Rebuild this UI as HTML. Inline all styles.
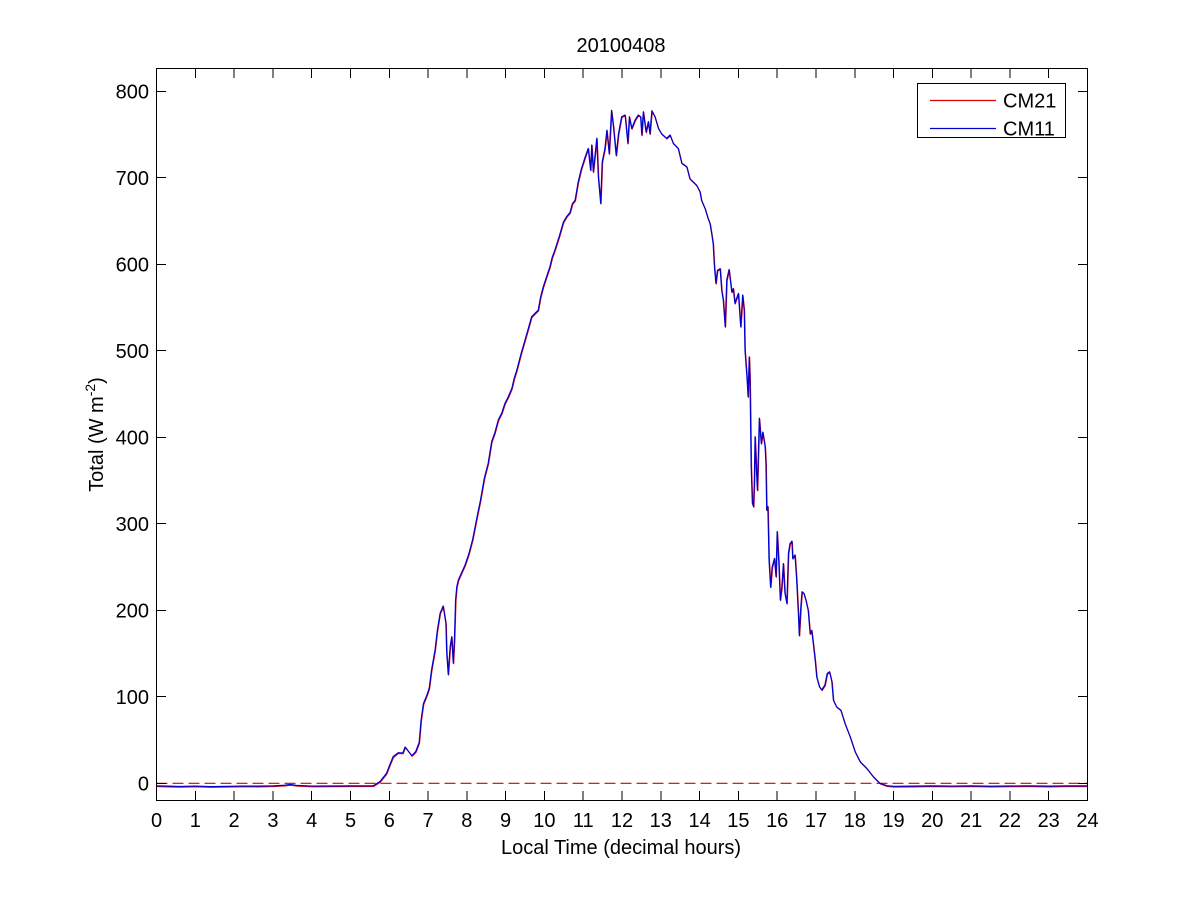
<!DOCTYPE html>
<html>
<head>
<meta charset="utf-8">
<style>
  html,body{margin:0;padding:0;background:#fff;}
  svg{display:block;}
  text{font-family:"Liberation Sans",Arial,sans-serif;fill:#000;}
</style>
</head>
<body>
<svg width="1201" height="900" viewBox="0 0 1201 900" xmlns="http://www.w3.org/2000/svg">
  <defs>
    <polyline id="d" fill="none" vector-effect="non-scaling-stroke" stroke-linejoin="round"
      points="0,-3 0.3,-3.3 0.6,-3.6 1,-3.2 1.4,-3.8 1.8,-3.5 2.2,-3.2 2.6,-3.3 3,-3 3.3,-2.2 3.45,-1.3 3.6,-2.4 4,-3.2 4.5,-3.1 5,-3 5.3,-2.9 5.59,-2.8 5.76,2 5.93,11.6 6.02,22 6.1,30.8 6.23,35.4 6.35,35 6.41,42 6.47,38.5 6.58,32 6.68,36.5 6.77,47 6.82,73 6.88,92 6.97,102 7.03,110 7.09,131 7.18,154 7.24,177 7.31,196.5 7.39,205 7.46,185 7.48,152 7.52,126 7.57,158 7.61,169.5 7.65,139 7.68,166 7.71,212 7.74,227 7.78,235 7.85,242 7.95,252 8.05,265 8.15,282 8.25,305 8.35,327 8.45,352.6 8.55,370 8.64,395 8.72,405 8.81,420 8.9,428 8.98,439 9.07,447 9.16,456.6 9.22,468 9.29,478 9.4,497 9.5,512.5 9.58,525 9.67,539.4 9.75,543 9.84,547 9.9,562 9.97,574 10.05,585 10.14,597 10.2,608 10.27,616.5 10.38,632 10.49,649 10.57,655 10.66,660 10.72,670 10.79,674 10.87,695 10.95,710 11.05,724 11.13,734 11.19,709 11.22,738 11.26,707 11.30,724 11.35,745.7 11.39,701 11.45,670.5 11.49,718.6 11.56,734 11.61,755 11.67,728 11.73,778 11.78,759 11.85,726 11.91,751 11.99,770.6 12.08,772.6 12.15,740 12.19,770.6 12.25,757 12.34,767 12.42,772.6 12.48,770.6 12.51,749.5 12.55,776.4 12.62,753 12.68,765 12.72,751 12.77,777.6 12.85,770.6 12.94,757 13.02,751 13.15,745.7 13.24,749.5 13.32,740 13.45,734 13.54,717 13.67,712.8 13.75,699 13.92,691.6 14.01,684 14.05,674 14.14,664.7 14.22,653 14.27,647 14.31,636 14.35,624 14.38,599 14.42,578 14.46,593 14.53,595 14.57,570 14.61,559 14.66,528 14.7,582 14.76,594 14.83,568 14.87,572 14.91,555 15.0,566.5 15.06,528 15.11,564.5 15.15,547 15.17,501 15.22,470 15.25,447 15.28,493 15.3,466 15.33,366 15.36,324 15.39,320 15.41,347 15.43,400.7 15.47,358 15.49,339 15.54,422 15.59,393 15.63,406 15.69,389 15.71,370 15.73,316 15.76,320 15.79,258 15.83,227 15.87,250 15.93,260 15.97,239 16.0,291 16.04,258 16.08,212 16.12,227 16.16,254 16.2,220 16.25,208 16.29,266 16.33,277 16.38,280 16.4,260 16.46,264 16.5,237 16.55,193 16.57,171 16.61,204 16.64,221.5 16.69,219.6 16.74,212 16.8,200 16.85,173 16.89,177 16.93,162 16.98,142.5 17.02,123 17.09,111.7 17.15,108 17.23,113.6 17.29,127 17.35,129 17.41,117.5 17.45,96 17.53,88.6 17.64,84.7 17.75,69 17.88,54 18.01,36.5 18.14,25 18.31,17.3 18.48,7.6 18.65,0 18.83,-2.8 19,-3.5 19.5,-3.3 20,-3 20.5,-3.2 21,-3 21.5,-3.4 22,-3.1 22.5,-3 23,-3.3 23.5,-2.9 24,-3"/>
  </defs>

  <rect x="0" y="0" width="1201" height="900" fill="#fff"/>

  <!-- Title -->
  <text x="621" y="52" font-size="20" text-anchor="middle">20100408</text>

  <!-- zero dashed line -->
  <line x1="156.5" y1="783.3" x2="1087.5" y2="783.3" stroke="#d00000" stroke-width="1.2" stroke-dasharray="11,5"/>

  <!-- data -->
  <g transform="translate(156.5,783.3) scale(38.7917,-0.865)">
    <use href="#d" stroke="#e00000" stroke-width="1.2" transform="translate(0.01,-0.8)"/>
    <use href="#d" stroke="#0000d0" stroke-width="1.2"/>
  </g>

  <!-- axes box -->
  <rect x="156.5" y="68.5" width="931" height="732" fill="none" stroke="#000" stroke-width="1" shape-rendering="crispEdges"/>

  <!-- ticks -->
  <g stroke="#000" stroke-width="1" shape-rendering="crispEdges">
    <path d="M195.3 800v-9M234.1 800v-9M272.9 800v-9M311.7 800v-9M350.5 800v-9M389.3 800v-9M428.0 800v-9M466.8 800v-9M505.6 800v-9M544.4 800v-9M583.2 800v-9M622.0 800v-9M660.8 800v-9M699.6 800v-9M738.4 800v-9M777.2 800v-9M816.0 800v-9M854.8 800v-9M893.5 800v-9M932.3 800v-9M971.1 800v-9M1009.9 800v-9M1048.7 800v-9"/>
    <path d="M195.3 69v9M234.1 69v9M272.9 69v9M311.7 69v9M350.5 69v9M389.3 69v9M428.0 69v9M466.8 69v9M505.6 69v9M544.4 69v9M583.2 69v9M622.0 69v9M660.8 69v9M699.6 69v9M738.4 69v9M777.2 69v9M816.0 69v9M854.8 69v9M893.5 69v9M932.3 69v9M971.1 69v9M1009.9 69v9M1048.7 69v9"/>
    <path d="M157 783.5h9M157 696.5h9M157 610.5h9M157 523.5h9M157 437.5h9M157 350.5h9M157 264.5h9M157 177.5h9M157 91.5h9"/>
    <path d="M1087 783.5h-9M1087 696.5h-9M1087 610.5h-9M1087 523.5h-9M1087 437.5h-9M1087 350.5h-9M1087 264.5h-9M1087 177.5h-9M1087 91.5h-9"/>
  </g>

  <!-- x tick labels -->
  <g font-size="20" text-anchor="middle">
    <text x="156.5" y="827">0</text>
    <text x="195.3" y="827">1</text>
    <text x="234.1" y="827">2</text>
    <text x="272.9" y="827">3</text>
    <text x="311.7" y="827">4</text>
    <text x="350.5" y="827">5</text>
    <text x="389.3" y="827">6</text>
    <text x="428.0" y="827">7</text>
    <text x="466.8" y="827">8</text>
    <text x="505.6" y="827">9</text>
    <text x="544.4" y="827">10</text>
    <text x="583.2" y="827">11</text>
    <text x="622.0" y="827">12</text>
    <text x="660.8" y="827">13</text>
    <text x="699.6" y="827">14</text>
    <text x="738.4" y="827">15</text>
    <text x="777.2" y="827">16</text>
    <text x="816.0" y="827">17</text>
    <text x="854.8" y="827">18</text>
    <text x="893.5" y="827">19</text>
    <text x="932.3" y="827">20</text>
    <text x="971.1" y="827">21</text>
    <text x="1009.9" y="827">22</text>
    <text x="1048.7" y="827">23</text>
    <text x="1087.5" y="827">24</text>
  </g>

  <!-- y tick labels -->
  <g font-size="20" text-anchor="end">
    <text x="149" y="790.5">0</text>
    <text x="149" y="704">100</text>
    <text x="149" y="617.5">200</text>
    <text x="149" y="531">300</text>
    <text x="149" y="444.5">400</text>
    <text x="149" y="358">500</text>
    <text x="149" y="271.5">600</text>
    <text x="149" y="185">700</text>
    <text x="149" y="98.5">800</text>
  </g>

  <!-- axis labels -->
  <text x="621" y="854" font-size="20" text-anchor="middle">Local Time (decimal hours)</text>
  <text transform="translate(103,434.5) rotate(-90)" font-size="20" text-anchor="middle">Total (W m<tspan font-size="14" dy="-8">-2</tspan><tspan dy="8">)</tspan></text>

  <!-- legend -->
  <rect x="917.5" y="83.5" width="148" height="54" fill="#fff" stroke="#000" stroke-width="1" shape-rendering="crispEdges"/>
  <line x1="930" y1="100.5" x2="996" y2="100.5" stroke="#e00000" stroke-width="1.2"/>
  <line x1="930" y1="128.5" x2="996" y2="128.5" stroke="#0000d0" stroke-width="1.2"/>
  <text x="1003" y="107.5" font-size="20">CM21</text>
  <text x="1003" y="135.5" font-size="20">CM11</text>
</svg>
</body>
</html>
